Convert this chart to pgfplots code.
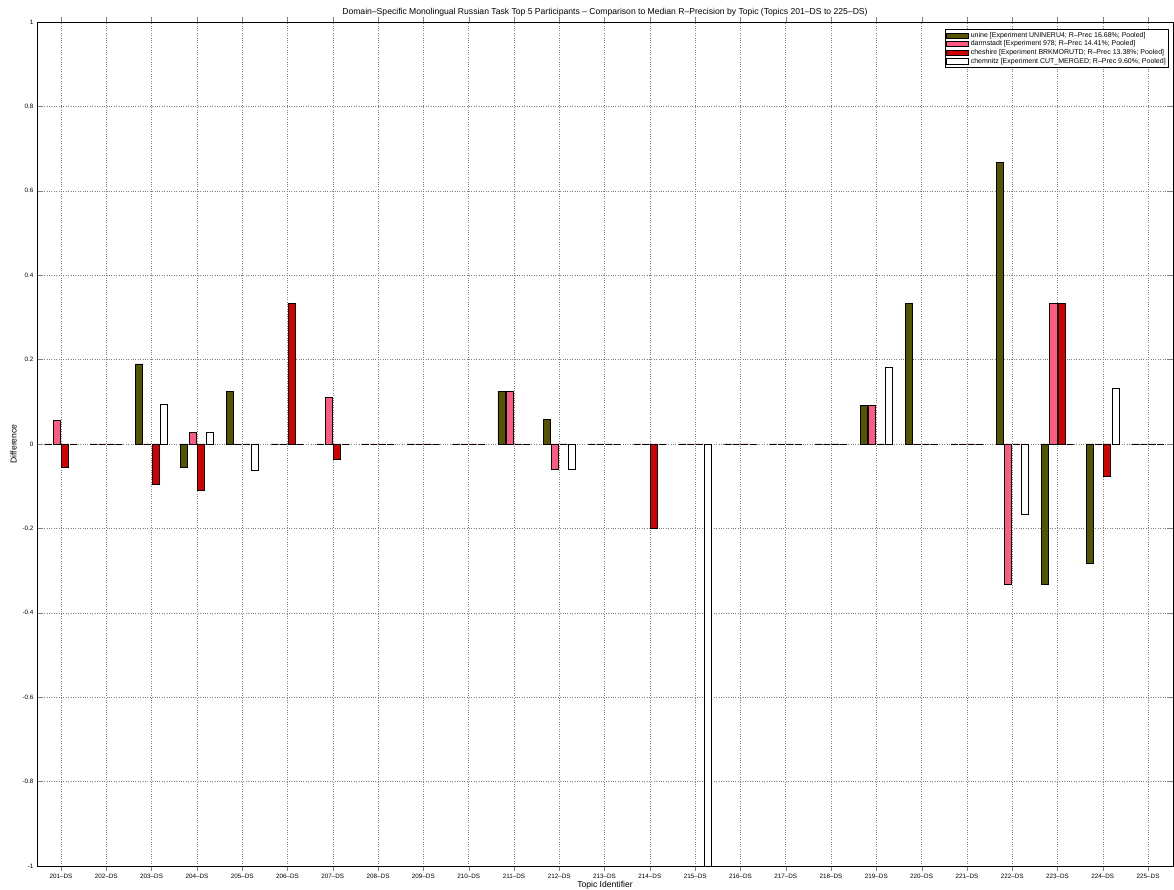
\documentclass[border=0pt]{standalone}
\usepackage{pgfplots}
\pgfplotsset{compat=1.18}
\usepackage{fontspec}
\setmainfont{Liberation Sans}
\definecolor{cOlive}{RGB}{85,85,0}
\definecolor{cPink}{RGB}{255,90,130}
\definecolor{cRed}{RGB}{210,0,0}

\begin{document}
\begin{tikzpicture}
\begin{axis}[
  scale only axis, width=1136pt, height=844pt,
  xmin=200.47, xmax=225.55, ymin=-1, ymax=1,
  xtick={201,...,225},
  ytick={-1,-0.8,-0.6,-0.4,-0.2,0,0.2,0.4,0.6,0.8,1},
  xticklabel={\pgfmathprintnumber{\tick}--DS},
  /pgf/number format/assume math mode=true,
  tick align=inside, major tick length=5pt,
  xmajorgrids, ymajorgrids,
  grid style={dotted, line width=0.5pt, black!50},
  tick label style={font=\fontsize{6.3}{7}\selectfont},
  title={Domain--Specific Monolingual Russian Task Top 5 Participants -- Comparison to Median R--Precision by Topic (Topics 201--DS to 225--DS)},
  title style={font=\fontsize{8.6}{9}\selectfont, yshift=-4pt},
  xlabel={Topic Identifier}, ylabel={Difference},
  label style={font=\fontsize{8.6}{9}\selectfont},
  xlabel style={yshift=5pt},
  ylabel style={yshift=-1pt},
  legend style={at={(0.9965,0.9917)}, anchor=north east,
    font=\fontsize{7}{7}\selectfont, draw=black, line width=0.6pt,
    inner sep=1pt, row sep=-2pt},
  legend cell align=left,
  ybar, bar width=0.155,
  every axis plot/.append style={draw=black, line width=0.6pt},
  every axis plot post/.append style={legend image code/.code={
    \draw[##1] (0pt,-2.6pt) rectangle (22pt,2.6pt);}},
]
\addplot[fill=cOlive, bar shift=-0.279] coordinates {
 (201,0) (202,0) (203,0.19) (204,-0.055) (205,0.125) (206,0) (207,0)
 (208,0) (209,0) (210,0) (211,0.125) (212,0.059) (213,0) (214,0)
 (215,0) (216,0) (217,0) (218,0) (219,0.091) (220,0.333) (221,0)
 (222,0.667) (223,-0.333) (224,-0.283) (225,0)};
\addplot[fill=cPink, bar shift=-0.093] coordinates {
 (201,0.056) (202,0) (203,0) (204,0.027) (205,0) (206,0) (207,0.111)
 (208,0) (209,0) (210,0) (211,0.125) (212,-0.059) (213,0) (214,0)
 (215,0) (216,0) (217,0) (218,0) (219,0.091) (220,0) (221,0)
 (222,-0.333) (223,0.333) (224,0) (225,0)};
\addplot[fill=cRed, bar shift=0.093] coordinates {
 (201,-0.056) (202,0) (203,-0.095) (204,-0.11) (205,0) (206,0.333) (207,-0.037)
 (208,0) (209,0) (210,0) (211,0) (212,0) (213,0) (214,-0.2)
 (215,0) (216,0) (217,0) (218,0) (219,0) (220,0) (221,0)
 (222,0) (223,0.333) (224,-0.077) (225,0)};
\addplot[fill=white, bar shift=0.279] coordinates {
 (201,0) (202,0) (203,0.095) (204,0.027) (205,-0.063) (206,0) (207,0)
 (208,0) (209,0) (210,0) (211,0) (212,-0.059) (213,0) (214,0)
 (215,-1) (216,0) (217,0) (218,0) (219,0.182) (220,0) (221,0)
 (222,-0.167) (223,0) (224,0.133) (225,0)};
\legend{unine [Experiment UNINERU4; R--Prec 16.68\%; Pooled],
  darmstadt [Experiment 978; R--Prec 14.41\%; Pooled],
  cheshire [Experiment BRKMORUTD; R--Prec 13.38\%; Pooled],
  chemnitz [Experiment CUT\_MERGED; R--Prec 9.60\%; Pooled]}
\end{axis}
\pgfresetboundingbox
\useasboundingbox ([shift={(-37pt,-24pt)}]current axis.south west) rectangle ([shift={(1pt,22pt)}]current axis.north east);
\end{tikzpicture}
\end{document}
